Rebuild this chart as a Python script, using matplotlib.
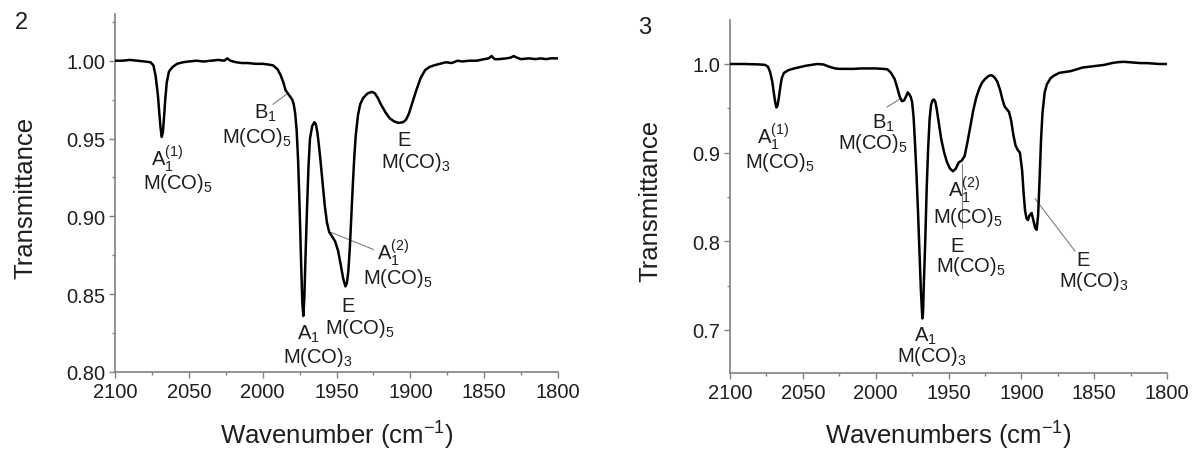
import matplotlib
matplotlib.use('Agg')
import matplotlib.pyplot as plt
from matplotlib.ticker import MultipleLocator, FormatStrFormatter

plt.rcParams['font.family'] = ['Liberation Sans', 'DejaVu Sans']
plt.rcParams['mathtext.default'] = 'regular'

# ── Spectrum 2 (left panel) ───────────────────────────────────────────────
wn_2 = [2100, 2095, 2090, 2085, 2080, 2076, 2074, 2072.5, 2071, 2070, 2069.2,
        2068.4, 2067.6, 2066.8, 2066, 2065, 2063.5, 2061, 2058, 2054, 2050,
        2045, 2040, 2035, 2030, 2026, 2024, 2022, 2018, 2014, 2010, 2005, 2000,
        1996, 1993, 1990, 1988, 1986, 1984.5, 1983, 1981.5, 1980, 1979, 1978,
        1977, 1976, 1975, 1974, 1973.2, 1972.5, 1971.8, 1971, 1970, 1969,
        1968, 1966.5, 1965, 1964, 1963, 1962, 1961, 1960, 1959, 1958, 1956.5,
        1955, 1953, 1951, 1949, 1947, 1945.5, 1944, 1943, 1942, 1941, 1940,
        1939, 1938, 1937, 1935.5, 1934, 1932, 1929, 1926, 1924, 1922, 1920,
        1917, 1914, 1911, 1908, 1905, 1903, 1901, 1899, 1896, 1893, 1890,
        1887, 1884, 1880, 1876, 1872, 1868, 1865, 1860, 1855, 1850, 1847,
        1845, 1843, 1840, 1835, 1832, 1830, 1828, 1825, 1820, 1815, 1812,
        1808, 1805, 1800]
tr_2 = [1.000, 1.000, 1.0005, 1.000, 0.9995, 0.999, 0.997, 0.990, 0.978, 0.966,
        0.957, 0.951, 0.954, 0.964, 0.975, 0.986, 0.993, 0.996, 0.998, 0.999,
        0.9995, 1.000, 0.9995, 1.000, 1.0005, 1.000, 1.0015, 1.000, 0.999,
        0.9985, 0.9985, 0.998, 0.998, 0.9975, 0.997, 0.9945, 0.991, 0.986,
        0.981, 0.979, 0.977, 0.975, 0.972, 0.966, 0.955, 0.935, 0.905, 0.870,
        0.845, 0.836, 0.848, 0.875, 0.905, 0.932, 0.950, 0.958, 0.9605, 0.959,
        0.954, 0.946, 0.937, 0.927, 0.917, 0.907, 0.896, 0.890, 0.887, 0.884,
        0.878, 0.868, 0.860, 0.855, 0.857, 0.865, 0.880, 0.900, 0.920, 0.938,
        0.952, 0.965, 0.972, 0.976, 0.979, 0.980, 0.979, 0.976, 0.972, 0.967,
        0.963, 0.961, 0.960, 0.9605, 0.962, 0.966, 0.972, 0.981, 0.989, 0.994,
        0.996, 0.997, 0.998, 0.999, 0.9985, 1.000, 0.9995, 1.000, 1.000, 1.001,
        1.0015, 1.003, 1.001, 1.001, 1.0015, 1.002, 1.003, 1.002, 1.001, 1.0015,
        1.001, 1.0015, 1.001, 1.0015, 1.0015]

# ── Spectrum 3 (right panel) ──────────────────────────────────────────────
wn_3 = [2100, 2090, 2080, 2076, 2074, 2072.5, 2071, 2070, 2069, 2068.2, 2067.4,
        2066.5, 2065.5, 2064.5, 2063, 2060, 2056, 2052, 2048, 2044, 2040, 2036,
        2032, 2028, 2025, 2020, 2015, 2010, 2005, 2000, 1995, 1992, 1989.5,
        1987, 1985, 1983.5, 1982, 1980.5, 1979, 1978, 1977, 1976, 1975, 1974,
        1973, 1972, 1971, 1970, 1969, 1968, 1967.5, 1967, 1966, 1965, 1964,
        1963, 1962, 1961, 1960, 1959, 1958, 1957, 1955, 1953, 1951, 1949,
        1947, 1945, 1943, 1941, 1939, 1937, 1935, 1933, 1931, 1929, 1927,
        1925, 1922.5, 1920.5, 1918.5, 1916.5, 1914.5, 1913, 1911.5, 1910,
        1908.5, 1907, 1905.5, 1904, 1902.5, 1901, 1899.5, 1898.5, 1897.5,
        1896.5, 1895.5, 1894.5, 1893, 1891.5, 1890.5, 1889.5, 1888.5, 1887.5,
        1886.5, 1885.5, 1884, 1882.5, 1880, 1877.5, 1874, 1870, 1866, 1862,
        1858, 1853, 1848, 1843, 1838, 1834, 1830, 1826, 1822, 1818, 1814,
        1810, 1805, 1800]
tr_3 = [1.000, 1.000, 0.9995, 0.999, 0.997, 0.991, 0.980, 0.968, 0.957, 0.951,
        0.953, 0.962, 0.974, 0.984, 0.990, 0.993, 0.995, 0.9965, 0.998, 0.999,
        1.000, 0.9995, 0.997, 0.995, 0.9945, 0.9945, 0.9945, 0.995, 0.995,
        0.995, 0.9945, 0.994, 0.990, 0.983, 0.972, 0.963, 0.958, 0.959, 0.964,
        0.968, 0.966, 0.963, 0.957, 0.940, 0.910, 0.875, 0.835, 0.790, 0.745,
        0.713, 0.720, 0.750, 0.800, 0.860, 0.905, 0.938, 0.954, 0.959, 0.960,
        0.957, 0.948, 0.937, 0.915, 0.900, 0.889, 0.882, 0.879, 0.882, 0.889,
        0.891, 0.896, 0.912, 0.930, 0.948, 0.962, 0.972, 0.979, 0.983, 0.9865,
        0.9875, 0.985, 0.980, 0.970, 0.960, 0.952, 0.949, 0.946, 0.936, 0.920,
        0.908, 0.903, 0.900, 0.880, 0.855, 0.835, 0.826, 0.824, 0.829, 0.832,
        0.822, 0.815, 0.813, 0.830, 0.870, 0.915, 0.945, 0.968, 0.977, 0.984,
        0.987, 0.990, 0.991, 0.992, 0.994, 0.996, 0.997, 0.998, 0.999, 1.001,
        1.002, 1.0025, 1.002, 1.0015, 1.001, 1.001, 1.0005, 1.000, 1.000]

# ── Peak labels: (text, wavenumber, transmittance) ────────────────────────
labels_2 = [('A$_1^{(1)}$', 2064.5, 0.938), ('M(CO)$_5$', 2057.3, 0.922),
            ('B$_1$', 1998.0, 0.967), ('M(CO)$_5$', 2003.8, 0.9516),
            ('A$_1^{(2)}$', 1911.5, 0.877), ('M(CO)$_5$', 1908.4, 0.861),
            ('E', 1942.2, 0.843), ('M(CO)$_5$', 1934.0, 0.8284),
            ('A$_1$', 1969.0, 0.825), ('M(CO)$_3$', 1962.5, 0.810),
            ('E', 1904.3, 0.9495), ('M(CO)$_3$', 1896.2, 0.935)]
leaders_2 = [((1993.0, 0.972), (1983.5, 0.9787)),
             ((1953.7, 0.8897), (1925.0, 0.8787))]

labels_3 = [('A$_1^{(1)}$', 2070.5, 0.919), ('M(CO)$_5$', 2065.7, 0.8896),
            ('B$_1$', 1995.0, 0.9346), ('M(CO)$_5$', 2001.8, 0.912),
            ('A$_1^{(2)}$', 1939.5, 0.859), ('M(CO)$_5$', 1936.6, 0.8276),
            ('E', 1944.2, 0.7955), ('M(CO)$_5$', 1934.6, 0.7724),
            ('A$_1$', 1966.0, 0.6935), ('M(CO)$_3$', 1961.3, 0.671),
            ('E', 1857.7, 0.779), ('M(CO)$_3$', 1850.0, 0.7555)]
leaders_3 = [((1992.2, 0.9515), (1983.3, 0.9606)),
             ((1941.0, 0.887), (1941.0, 0.815)),
             ((1890.6, 0.848), (1863.2, 0.789))]

GREY = '#808080'
INK = '#1e1e1e'

fig = plt.figure(figsize=(11.96, 4.52), dpi=100, facecolor='white')
ax2 = fig.add_axes([0.0962, 0.1748, 0.3704, 0.7920])
ax3 = fig.add_axes([0.6104, 0.1726, 0.3654, 0.7809])


def style(ax, ylim, major, minor, fmt, xlabel, ylx):
    ax.set_xlim(2100, 1800)
    ax.set_ylim(*ylim)
    ax.xaxis.set_major_locator(MultipleLocator(50))
    ax.xaxis.set_minor_locator(MultipleLocator(25))
    ax.yaxis.set_major_locator(MultipleLocator(major))
    ax.yaxis.set_minor_locator(MultipleLocator(minor))
    ax.yaxis.set_major_formatter(FormatStrFormatter(fmt))
    ax.spines[['top', 'right']].set_visible(False)
    for s in ('left', 'bottom'):
        ax.spines[s].set_color(GREY)
        ax.spines[s].set_linewidth(1.2)
    ax.tick_params(which='major', length=4, width=1.0, color=GREY,
                   labelsize=14.5, labelcolor=INK, pad=3)
    ax.tick_params(which='minor', length=2.5, width=1.0, color=GREY)
    ax.set_xlabel(xlabel, fontsize=18.5, color=INK, va='center')
    ax.xaxis.set_label_coords(0.5, -0.175)
    ax.set_ylabel('Transmittance', fontsize=18.5, color=INK, va='center')
    ax.yaxis.set_label_coords(ylx, 0.49)


def annotate(ax, labels, leaders):
    for (x0, y0), (x1, y1) in leaders:
        ax.plot([x0, x1], [y0, y1], color=GREY, lw=0.8, zorder=2)
    for txt, x, y in labels:
        ax.text(x, y, txt, ha='center', va='center', fontsize=14.5,
                color=INK, zorder=4)


ax2.plot(wn_2, tr_2, color='black', lw=1.8, zorder=3)
style(ax2, (0.80, 1.030), 0.05, 0.025, '%.2f', 'Wavenumber (cm$^{-1}$)', -0.203)
annotate(ax2, labels_2, leaders_2)

ax3.plot(wn_3, tr_3, color='black', lw=1.8, zorder=3)
style(ax3, (0.6515, 1.0496), 0.1, 0.05, '%.1f', 'Wavenumbers (cm$^{-1}$)', -0.183)
annotate(ax3, labels_3, leaders_3)

fig.text(21 / 1196, 1 - 23 / 452, '2', fontsize=17, color=INK,
         ha='center', va='center')
fig.text(645 / 1196, 1 - 28 / 452, '3', fontsize=17, color=INK,
         ha='center', va='center')

fig.savefig('out.png', dpi=100, facecolor='white')
